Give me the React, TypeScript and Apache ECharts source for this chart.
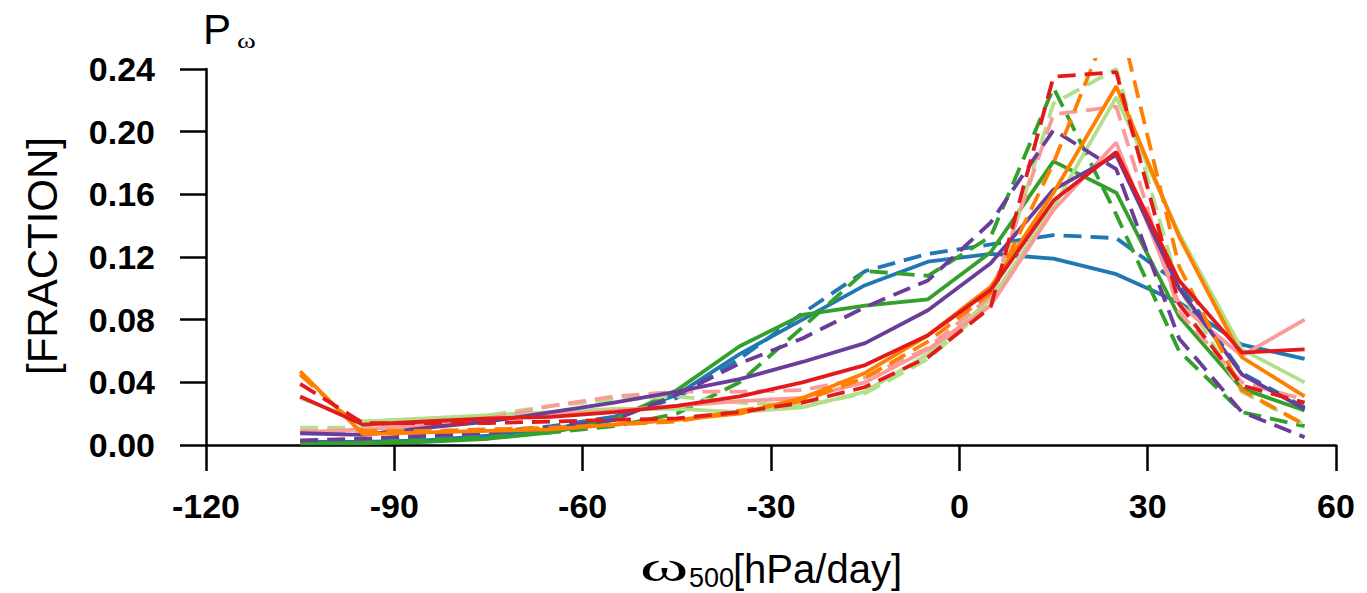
import React, { useEffect, useRef } from "react";
import * as echarts from "echarts";

const omega = [-105, -95, -85, -75, -65, -55, -45, -35, -25, -15, -5, 5, 15, 25, 35, 45, 55];
const xTicks = [-120, -90, -60, -30, 0, 30, 60];
const yTicks = [0, 0.04, 0.08, 0.12, 0.16, 0.2, 0.24];

const blueSolid = [0.002, 0.002, 0.003, 0.006, 0.010, 0.018, 0.032, 0.058, 0.080, 0.102, 0.117, 0.122, 0.119, 0.109, 0.091, 0.064, 0.055];
const blueDashed = [0.002, 0.003, 0.005, 0.008, 0.012, 0.018, 0.030, 0.055, 0.084, 0.111, 0.122, 0.128, 0.134, 0.132, 0.103, 0.046, 0.024];
const greenSolid = [0.001, 0.001, 0.002, 0.004, 0.008, 0.016, 0.035, 0.063, 0.083, 0.089, 0.093, 0.123, 0.181, 0.161, 0.082, 0.036, 0.022];
const greenDashed = [0.002, 0.002, 0.003, 0.005, 0.008, 0.012, 0.020, 0.040, 0.075, 0.111, 0.108, 0.133, 0.228, 0.147, 0.060, 0.021, 0.012];
const purpleSolid = [0.0075, 0.0064, 0.011, 0.015, 0.021, 0.027, 0.034, 0.042, 0.053, 0.065, 0.086, 0.116, 0.163, 0.185, 0.100, 0.045, 0.023];
const purpleDashed = [0.003, 0.004, 0.006, 0.008, 0.011, 0.016, 0.032, 0.052, 0.068, 0.088, 0.105, 0.142, 0.201, 0.176, 0.068, 0.021, 0.005];
const lightGreenSolid = [0.030, 0.015, 0.017, 0.019, 0.021, 0.023, 0.023, 0.021, 0.024, 0.034, 0.058, 0.093, 0.152, 0.222, 0.135, 0.061, 0.040];
const lightGreenDashed = [0.011, 0.011, 0.014, 0.019, 0.025, 0.029, 0.031, 0.027, 0.025, 0.033, 0.055, 0.090, 0.218, 0.240, 0.100, 0.034, 0.013];
const pinkSolid = [0.008, 0.010, 0.013, 0.016, 0.019, 0.022, 0.025, 0.028, 0.030, 0.040, 0.061, 0.089, 0.150, 0.193, 0.090, 0.057, 0.080];
const pinkDashed = [0.009, 0.009, 0.012, 0.017, 0.025, 0.031, 0.034, 0.034, 0.035, 0.043, 0.062, 0.095, 0.211, 0.216, 0.085, 0.040, 0.029];
const orangeSolid = [0.047, 0.007, 0.008, 0.009, 0.010, 0.013, 0.016, 0.020, 0.030, 0.046, 0.070, 0.101, 0.161, 0.229, 0.133, 0.056, 0.031];
const orangeDashed = [0.045, 0.009, 0.009, 0.010, 0.011, 0.013, 0.015, 0.022, 0.028, 0.043, 0.066, 0.097, 0.180, 0.280, 0.114, 0.035, 0.013];
const redSolid = [0.031, 0.013, 0.015, 0.017, 0.018, 0.021, 0.025, 0.031, 0.040, 0.051, 0.070, 0.099, 0.156, 0.187, 0.105, 0.059, 0.061];
const redDashed = [0.039, 0.014, 0.014, 0.014, 0.015, 0.016, 0.017, 0.021, 0.027, 0.037, 0.056, 0.088, 0.235, 0.238, 0.090, 0.038, 0.027];

const BLUE = "#1f78b4";
const GREEN = "#33a02c";
const LGREEN = "#b2df8a";
const RED = "#e31a1c";
const PINK = "#fb9a99";
const ORANGE = "#ff7f00";
const PURPLE = "#6a3d9a";

const seriesDefs: [number[], string, boolean][] = [
  [blueSolid, BLUE, false],
  [blueDashed, BLUE, true],
  [greenSolid, GREEN, false],
  [greenDashed, GREEN, true],
  [lightGreenSolid, LGREEN, false],
  [lightGreenDashed, LGREEN, true],
  [pinkSolid, PINK, false],
  [pinkDashed, PINK, true],
  [purpleSolid, PURPLE, false],
  [purpleDashed, PURPLE, true],
  [orangeSolid, ORANGE, false],
  [orangeDashed, ORANGE, true],
  [redSolid, RED, false],
  [redDashed, RED, true],
];

const FONT = "'Liberation Sans', Arial, Helvetica, sans-serif";
const SERIF = "'Liberation Serif', 'DejaVu Serif', serif";

export default function App() {
  const ref = useRef<HTMLDivElement>(null);
  useEffect(() => {
    if (!ref.current) return;
    const chart = echarts.init(ref.current, undefined, { renderer: "svg" });
    const axisColor = "#000";
    chart.setOption({
      animation: false,
      backgroundColor: "#fff",
      grid: [
        { left: 206, right: 31, top: 60, bottom: 148 },
        { left: 206, right: 31, top: 69, bottom: 148 },
      ],
      xAxis: [
        {
          gridIndex: 0,
          type: "value",
          min: xTicks[0],
          max: xTicks[xTicks.length - 1],
          interval: 30,
          axisLine: { show: true, onZero: false, lineStyle: { color: axisColor, width: 2.5 } },
          axisTick: { show: true, length: 26, lineStyle: { color: axisColor, width: 2.5 } },
          axisLabel: { color: "#000", fontSize: 34, fontWeight: "bold", fontFamily: FONT, margin: 44 },
          splitLine: { show: false },
        },
        {
          gridIndex: 1,
          type: "value",
          min: xTicks[0],
          max: xTicks[xTicks.length - 1],
          show: false,
        },
      ],
      yAxis: [
        { gridIndex: 0, type: "value", min: 0, max: 0.2457, show: false },
        {
          gridIndex: 1,
          type: "value",
          min: yTicks[0],
          max: yTicks[yTicks.length - 1],
          interval: 0.04,
          axisLine: { show: true, onZero: false, lineStyle: { color: axisColor, width: 2.5 } },
          axisTick: { show: true, length: 26, lineStyle: { color: axisColor, width: 2.5 } },
          axisLabel: {
            color: "#000",
            fontSize: 34,
            fontWeight: "bold",
            fontFamily: FONT,
            margin: 51,
            formatter: (v: number) => v.toFixed(2),
          },
          splitLine: { show: false },
        },
      ],
      series: seriesDefs.map(([vals, color, dashed]) => ({
        type: "line",
        xAxisIndex: 0,
        yAxisIndex: 0,
        data: omega.map((x, i) => [x, vals[i]]),
        symbol: "none",
        clip: true,
        lineStyle: { color, width: 3.8, type: dashed ? [18, 9] : "solid", cap: "butt" },
      })),
      graphic: [
        {
          type: "text",
          left: 203,
          top: 8,
          style: { text: "P", fontSize: 42, fontFamily: FONT, fill: "#000" },
        },
        {
          type: "text",
          x: 237,
          y: 30,
          scaleX: 1.3,
          style: { text: "ω", fontSize: 22, fontFamily: SERIF, fill: "#000", align: "left", verticalAlign: "top" },
        },
        {
          type: "text",
          x: 42,
          y: 256,
          rotation: Math.PI / 2,
          style: {
            text: "[FRACTION]",
            fontSize: 42,
            fontFamily: FONT,
            fill: "#000",
            align: "center",
            verticalAlign: "middle",
          },
        },
        {
          type: "text",
          x: 640,
          y: 567,
          scaleX: 1.75,
          style: { text: "ω", fontSize: 42, fontFamily: SERIF, fill: "#000", align: "left", verticalAlign: "middle" },
        },
        {
          type: "text",
          x: 689,
          y: 578,
          style: { text: "500", fontSize: 27, fontFamily: FONT, fill: "#000", align: "left", verticalAlign: "middle" },
        },
        {
          type: "text",
          x: 733,
          y: 569,
          style: { text: "[hPa/day]", fontSize: 40, fontFamily: FONT, fill: "#000", align: "left", verticalAlign: "middle" },
        },
      ],
    });
    return () => chart.dispose();
  }, []);
  return (
    <div
      ref={ref}
      style={{ position: "absolute", left: 0, top: 0, width: 1367, height: 593 }}
    />
  );
}
